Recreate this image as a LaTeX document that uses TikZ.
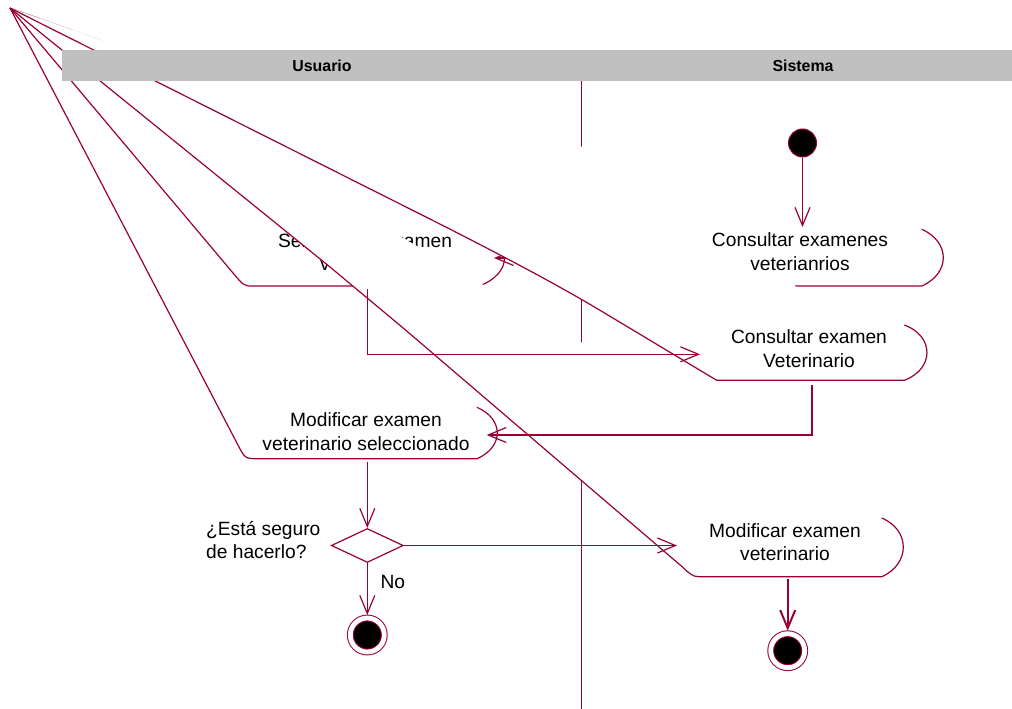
\documentclass[tikz,border=0pt]{standalone}
\usepackage{fontspec}
\setmainfont{Liberation Sans}
\usetikzlibrary{arrows.meta, shapes.geometric}

\definecolor{rose}{RGB}{153,0,51}
\definecolor{lanegray}{RGB}{192,192,192}

\begin{document}
\begin{tikzpicture}[
  x=1pt, y=-1pt,
  >={Straight Barb[length=18pt,width=15pt]},
% 1. Activities: white filled, open at the top
  activity/.style={
    draw=rose,
    fill=white,
    line width=1.2pt
  },
  act_text/.style={
    font=\fontsize{19.2}{23.4}\selectfont,
    align=center,
    inner sep=0pt
  },
% 2. Transitions with open barbs
  flow/.style={
    draw=rose,
    line width=1.2pt,
    ->
  },
% 3. Start, end and choice
  initnode/.style={
    circle,
    draw=rose,
    fill=black,
    line width=1pt,
    minimum size=28pt,
    inner sep=0pt
  },
  finalnode/.style={
    circle,
    draw=rose,
    fill=black,
    line width=1pt,
    double=white,
    double distance=4.8pt,
    minimum size=34pt,
    inner sep=0pt,
    outer sep=3pt
  },
  choice/.style={
    diamond,
    draw=rose,
    fill=white,
    line width=1.2pt,
    minimum width=72pt,
    minimum height=34pt,
    inner sep=0pt
  },
  lane_head/.style={
    font=\fontsize{15.9}{19}\selectfont\bfseries
  }
]
  \useasboundingbox (0,0) rectangle (1012,709);
  \coordinate (apex) at (10,8);

  % Lane divider
  \draw[draw=rose, line width=1.2pt] (581.7,81) -- (581.7,709);

  % Modificar examen veterinario seleccionado
  \filldraw[activity] (apex) -- (237,443.2) .. controls (245,458.7) .. (258,458.7) -- (477,458.7)
    .. controls (504,447) and (504,419) .. (477,407.3);
  \node[act_text] (modSel) at (366,431.7) {Modificar examen\\veterinario seleccionado};

  % Seleccionar examen veterinario
  \filldraw[activity] (apex) -- (233,273) .. controls (244,286) .. (253,286) -- (479,286)
    .. controls (513,273.7) and (513,242.3) .. (479,230);
  \node[act_text] (selExamen) at (365,252) {Seleccionar examen\\veterinario};

  % Modificar examen veterinario
  \filldraw[activity] (apex) -- (330,267) .. controls (367,297) .. (404,328.7) -- (682,566.6)
    .. controls (689,573) and (692,576.7) .. (699,576.7)
    -- (881.7,576.7) .. controls (910.5,564) and (910.5,530) .. (881.7,518);
  \node[act_text] (modExamen) at (785,542) {Modificar examen\\veterinario};

  % Consultar examenes veterianrios (left edge mostly hidden)
  \fill[white] (apex) -- (921.7,229.3) .. controls (950.5,241.8) and (950.5,273.5) .. (921.7,286)
    -- (795,286) -- (795,289) -- cycle;
  \draw[activity, fill=none] (795,286) -- (921.7,286)
    .. controls (950.5,273.5) and (950.5,241.8) .. (921.7,229.3);
  \draw[draw=rose!60, line width=1pt] (apex) -- (40,18.6);
  \draw[draw=rose!30, line width=1pt] (40,18.6) -- (72,30);
  \draw[draw=rose!12, line width=1pt] (72,30) -- (103,40.9);
  \node[act_text] (conExamenes) at (800,251.7) {Consultar examenes\\veterianrios};

  % Transition lying under the next activity
  \coordinate (conExamenesOut) at (705,258);
  \coordinate (selExamenIn) at (494,258);
  \draw[flow] (conExamenesOut) -- (selExamenIn);

  % Consultar examen Veterinario
  \filldraw[activity] (apex) -- (420,214) .. controls (500,254.2) and (560,286.2) .. (600,310.3)
    -- (716.7,380.3) -- (904.3,380.3) .. controls (934.5,369) and (934.5,336) .. (904.3,325);
  \node[act_text] (conExamen) at (809,348.5) {Consultar examen\\Veterinario};

  % Start and end states
  \node[initnode] (ini) at (802.5,143) {};
  \node[choice] (dec) at (367.3,545.5) {};
  \node[finalnode] (finA) at (367.3,635) {};
  \node[finalnode] (finB) at (787.7,650.7) {};
  \node[act_text, align=left, anchor=west] (ask) at (206,540) {¿Está seguro\\de hacerlo?};

  % Transitions
  \coordinate (conExamenesIn) at (802.5,227);
  \coordinate (selExamenOut) at (367.5,289);
  \coordinate (conExamenIn) at (700,354.3);
  \coordinate (conExamenOut) at (812,385);
  \coordinate (modSelIn) at (486.7,435);
  \coordinate (modSelOut) at (367.3,462);
  \coordinate (modExamenIn) at (677,545.5);
  \coordinate (modExamenOut) at (787.7,578.5);

  \draw[flow] (ini) -- (conExamenesIn);
  \draw[flow] (selExamenOut) |- (conExamenIn);
  \draw[flow] (conExamenOut) |- (modSelIn);
  \draw[flow] (modSelOut) -- (dec);
  \draw[flow] (dec) -- (finA) node[act_text, pos=0.37, anchor=west, xshift=12.7pt] {No};
  \draw[flow] (dec) -- (modExamenIn);
  \draw[flow, line width=2pt] (modExamenOut) -- (finB);

  % Lane header on top
  \fill[lanegray] (62,50) rectangle (1012,81);
  \node[lane_head] (usuario) at (322,65.5) {Usuario};
  \node[lane_head] (sistema) at (803,65.5) {Sistema};

\end{tikzpicture}
\end{document}
